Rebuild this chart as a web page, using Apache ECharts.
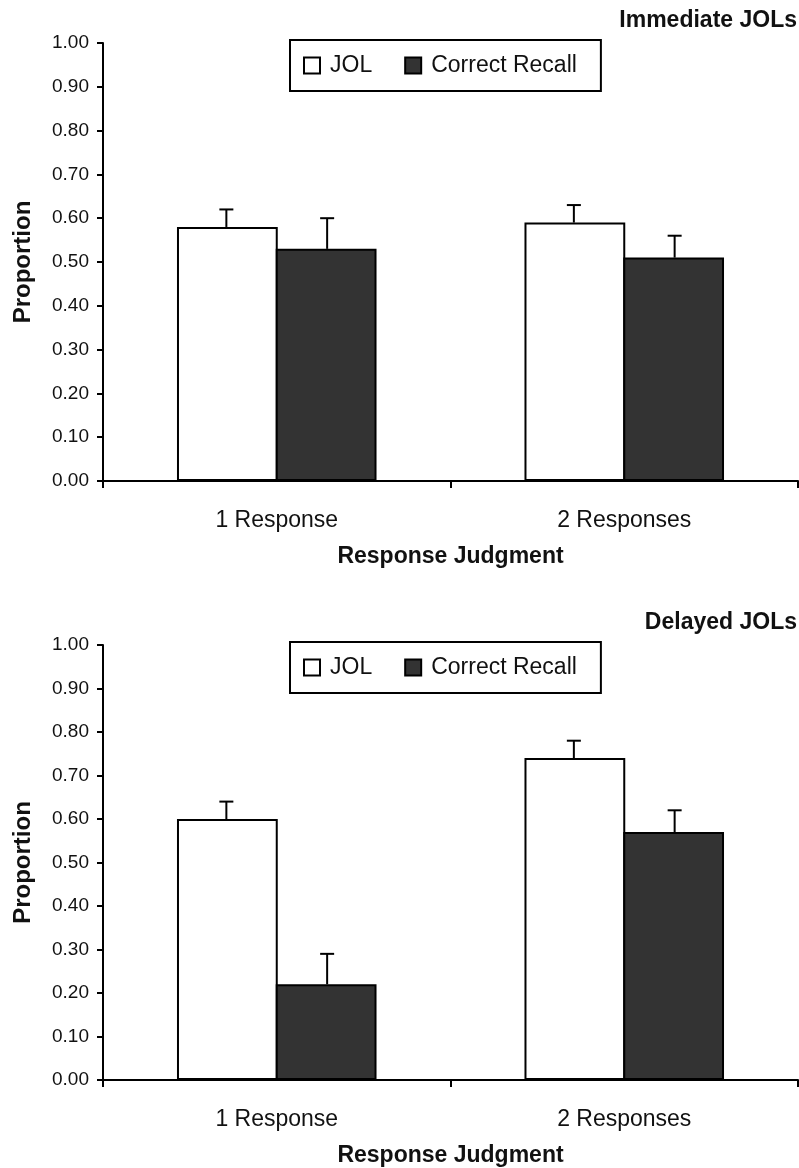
<!DOCTYPE html>
<html>
<head>
<meta charset="utf-8">
<title>JOL vs Correct Recall</title>
<script src="https://cdn.jsdelivr.net/npm/echarts@6/dist/echarts.min.js"></script>
<style>
  html, body { margin: 0; padding: 0; background: #fff; }
  #chart { width: 799px; height: 1168px; }
</style>
</head>
<body>
<div id="chart"></div>
<script>
// ---------------------------------------------------------------------------
// Data (proportions, error bars drawn upward only)
// ---------------------------------------------------------------------------
const categories = ["1 Response", "2 Responses"];
const seriesNames = ["JOL", "Correct Recall"];
const panelTitles = ["Immediate JOLs", "Delayed JOLs"];

// Immediate JOLs
const immJol = [0.58, 0.59];
const immJolErr = [0.62, 0.63];      // top of error bar
const immRecall = [0.53, 0.51];
const immRecallErr = [0.60, 0.56];

// Delayed JOLs
const delJol = [0.60, 0.74];
const delJolErr = [0.64, 0.78];
const delRecall = [0.22, 0.57];
const delRecallErr = [0.29, 0.62];

// ---------------------------------------------------------------------------
// Styling
// ---------------------------------------------------------------------------
const FONT = "'Liberation Sans', Arial, Helvetica, sans-serif";
const INK = "#111";
const BAR_FRAC = 0.29; // bar width as a fraction of the category band
const FILLS = ["#ffffff", "#333333"];

const GRID_TOPS = [43, 645];
const GRID_H = 438;

function errorRender(side) {
  // side: -1 for the left bar (JOL), +1 for the right bar (Recall)
  return function (params, api) {
    const band = api.size([1, 0])[0];
    const off = side * band * BAR_FRAC / 2;
    const base = api.coord([api.value(0), api.value(1)]);
    const top = api.coord([api.value(0), api.value(2)]);
    const x = base[0] + off;
    const style = { stroke: "#000", lineWidth: 2 };
    return {
      type: "group",
      children: [
        { type: "line", shape: { x1: x, y1: base[1], x2: x, y2: top[1] }, style },
        { type: "line", shape: { x1: x - 7, y1: top[1], x2: x + 7, y2: top[1] }, style },
      ],
    };
  };
}

function errData(vals, tops) {
  return vals.map((v, i) => [i, v, tops[i]]);
}

const panels = [
  { jol: immJol, jolErr: immJolErr, rec: immRecall, recErr: immRecallErr },
  { jol: delJol, jolErr: delJolErr, rec: delRecall, recErr: delRecallErr },
];

const grid = GRID_TOPS.map((t) => ({ left: 103, right: 1, top: t, height: GRID_H }));

const xAxis = GRID_TOPS.map((_, i) => ({
  type: "category",
  gridIndex: i,
  data: categories,
  axisLine: { lineStyle: { color: "#000", width: 2 } },
  axisTick: { show: true, length: 7, lineStyle: { color: "#000", width: 2 } },
  axisLabel: { color: INK, fontFamily: FONT, fontSize: 23, margin: 28 },
  name: "Response Judgment",
  nameLocation: "middle",
  nameGap: 64,
  nameTextStyle: { color: INK, fontFamily: FONT, fontSize: 23, fontWeight: "bold" },
}));

const yAxis = GRID_TOPS.map((_, i) => ({
  type: "value",
  gridIndex: i,
  min: 0,
  max: 1,
  interval: 0.1,
  splitLine: { show: false },
  axisLine: { show: true, lineStyle: { color: "#000", width: 2 } },
  axisTick: { show: true, length: 6, lineStyle: { color: "#000", width: 2 } },
  axisLabel: {
    color: INK, fontFamily: FONT, fontSize: 19, margin: 14,
    formatter: (v) => v.toFixed(2),
  },
  name: "Proportion",
  nameLocation: "middle",
  nameGap: 68,
  nameTextStyle: { color: INK, fontFamily: FONT, fontSize: 24, fontWeight: "bold" },
}));

const series = [];
panels.forEach((p, i) => {
  series.push({
    name: seriesNames[0], type: "bar", xAxisIndex: i, yAxisIndex: i,
    data: p.jol, barWidth: (BAR_FRAC * 100) + "%", barGap: "-2%",
    itemStyle: { color: FILLS[0], borderColor: "#000", borderWidth: 2 },
  });
  series.push({
    name: seriesNames[1], type: "bar", xAxisIndex: i, yAxisIndex: i,
    data: p.rec, barWidth: (BAR_FRAC * 100) + "%", barGap: "-2%",
    itemStyle: { color: FILLS[1], borderColor: "#000", borderWidth: 2 },
  });
  series.push({
    type: "custom", xAxisIndex: i, yAxisIndex: i, z: 5,
    renderItem: errorRender(-1), data: errData(p.jol, p.jolErr),
  });
  series.push({
    type: "custom", xAxisIndex: i, yAxisIndex: i, z: 5,
    renderItem: errorRender(1), data: errData(p.rec, p.recErr),
  });
});

const legend = GRID_TOPS.map((t) => ({
  data: seriesNames,
  left: 290,
  top: t - 3,
  orient: "horizontal",
  icon: "rect",
  itemWidth: 16,
  itemHeight: 16,
  itemGap: 32,
  padding: [14, 24, 14, 13],
  borderColor: "#000",
  borderWidth: 2,
  borderRadius: 0,
  selectedMode: false,
  textStyle: { color: INK, fontFamily: FONT, fontSize: 23, padding: [0, 0, 0, 5] },
}));

const title = panelTitles.map((txt, i) => ({
  text: txt,
  right: 2,
  top: GRID_TOPS[i] - 34,
  padding: 0,
  textStyle: { color: INK, fontFamily: FONT, fontSize: 23, fontWeight: "bold" },
}));

const chart = echarts.init(document.getElementById("chart"), null, { renderer: "canvas" });
chart.setOption({
  animation: false,
  backgroundColor: "#fff",
  title,
  legend,
  grid,
  xAxis,
  yAxis,
  series,
});
</script>
</body>
</html>
